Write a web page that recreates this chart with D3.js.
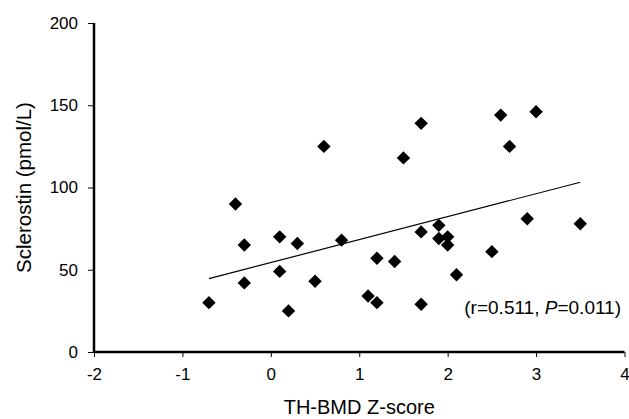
<!DOCTYPE html>
<html>
<head>
<meta charset="utf-8">
<script src="https://cdn.jsdelivr.net/npm/d3@7"></script>
<style>
  body { margin: 0; background: #fff; }
  svg { display: block; font-family: "Liberation Sans", Arial, sans-serif; }
  .axis path, .axis line { stroke: #000; }
  .axis text { font-size: 17px; fill: #000; }
</style>
</head>
<body>
<svg id="chart"></svg>
<script>
// TH-BMD Z-score vs sclerostin
var zScore = [-0.7, -0.4, -0.3, -0.3, 0.1, 0.1, 0.2, 0.3, 0.5, 0.6,
              0.8, 1.1, 1.2, 1.2, 1.4, 1.5, 1.7, 1.7, 1.7, 1.9,
              1.9, 2.0, 2.0, 2.1, 2.5, 2.6, 2.7, 2.9, 3.0, 3.5];
var sclerostin = [30, 90, 65, 42, 70, 49, 25, 66, 43, 125,
                  68, 34, 30, 57, 55, 118, 139, 73, 29, 77,
                  69, 70, 65, 47, 61, 144, 125, 81, 146, 78];
var trendX = [-0.7, 3.5];
var trendY = [44.6, 103.2];
var xTicks = [-2, -1, 0, 1, 2, 3, 4];
var yTicks = [0, 50, 100, 150, 200];

var w = 629, h = 419;
var margin = {top: 23, right: 5, bottom: 67, left: 94};

var svg = d3.select('#chart').attr('width', w).attr('height', h);

var x = d3.scaleLinear().domain([-2, 4]).range([margin.left, 624.5]);
var y = d3.scaleLinear().domain([0, 200]).range([352, margin.top]);

function plain(d) { return String(d); }

var xAxis = d3.axisBottom(x).tickValues(xTicks).tickFormat(plain)
    .tickSize(5).tickSizeOuter(5).tickPadding(11);
var yAxis = d3.axisLeft(y).tickValues(yTicks).tickFormat(plain)
    .tickSize(6).tickSizeOuter(6).tickPadding(10);

var gx = svg.append('g')
    .attr('class', 'axis')
    .attr('transform', 'translate(0,' + y(0) + ')')
    .call(xAxis);
gx.select('.domain').attr('stroke-width', 2.5).attr('d', 'M' + x(-2) + ',0H' + x(4));
gx.selectAll('.tick line').attr('stroke-width', 1);

var gy = svg.append('g')
    .attr('class', 'axis')
    .attr('transform', 'translate(' + x(-2) + ',0)')
    .call(yAxis);
gy.select('.domain').attr('stroke-width', 2.5).attr('d', 'M0,' + y(0) + 'V' + y(200));
gy.selectAll('.tick line').attr('stroke-width', 1);

// trend line
svg.append('line')
    .attr('x1', x(trendX[0])).attr('y1', y(trendY[0]))
    .attr('x2', x(trendX[1])).attr('y2', y(trendY[1]))
    .attr('stroke', '#000').attr('stroke-width', 1.2);

// diamonds
var diamond = d3.symbol().type(d3.symbolSquare).size(90);
svg.selectAll('.pt')
    .data(zScore.map(function(d, i) { return {x: d, y: sclerostin[i]}; }))
    .enter()
    .append('path')
      .attr('class', 'pt')
      .attr('d', diamond)
      .attr('fill', '#000')
      .attr('transform', function(d) { return 'translate(' + x(d.x) + ',' + y(d.y) + ') rotate(45)'; });

// axis titles
svg.append('text')
    .attr('x', x(1)).attr('y', 414)
    .attr('text-anchor', 'middle')
    .attr('font-size', 20)
    .text('TH-BMD Z-score');

svg.append('text')
    .attr('transform', 'translate(31,' + y(100) + ') rotate(-90)')
    .attr('text-anchor', 'middle')
    .attr('font-size', 20.5)
    .text('Sclerostin (pmol/L)');

// correlation note
var note = svg.append('text')
    .attr('x', 621).attr('y', 314)
    .attr('text-anchor', 'end')
    .attr('font-size', 19);
note.append('tspan').text('(r=0.511, ');
note.append('tspan').attr('font-style', 'italic').text('P');
note.append('tspan').text('=0.011)');
</script>
</body>
</html>
